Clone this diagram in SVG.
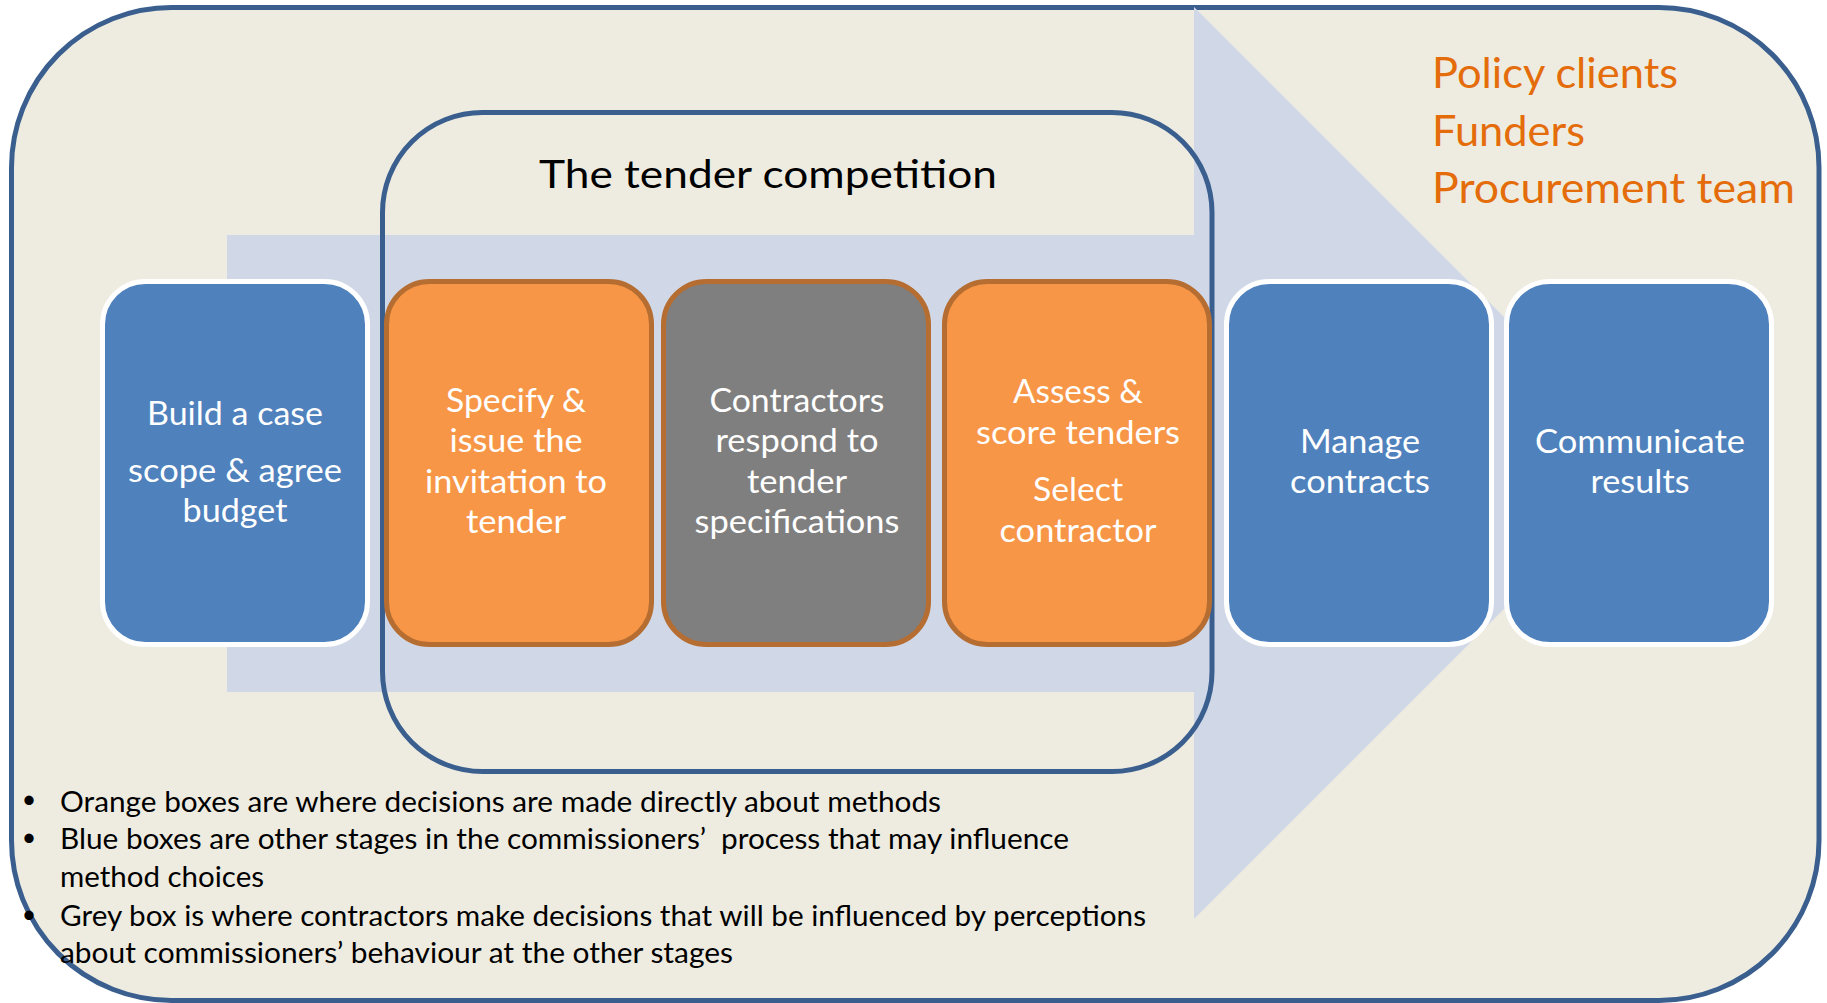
<svg xmlns="http://www.w3.org/2000/svg" width="1827" height="1003" viewBox="0 0 1827 1003">
<style>
.frame{fill:#EEECE1;stroke:#3A5F8E;stroke-width:5}
.tender{fill:none;stroke:#3A5F8E;stroke-width:5}
.arrow{fill:#D0D8E8}
.blue{fill:#4F81BD;stroke:#FFFFFF;stroke-width:5}
.orange{fill:#F79646;stroke:#B66D31;stroke-width:5}
.grey{fill:#7F7F7F;stroke:#B66D31;stroke-width:5}
.lbl{font-family:Lato,"Open Sans",sans-serif;font-size:32px;fill:#FFFFFF;text-anchor:middle}
.title{font-family:Lato,"Open Sans",sans-serif;font-size:39px;fill:#000000;text-anchor:middle}
.who{font-family:Lato,"Open Sans",sans-serif;font-size:42px;fill:#E46C0A}
.note{font-family:Lato,"Open Sans",sans-serif;font-size:29px;fill:#000000;white-space:pre}
.bul{font-family:Lato,"Open Sans",sans-serif;font-size:25px;fill:#000000;text-anchor:middle}
</style>
<rect class="frame" x="11.5" y="7.5" width="1807.5" height="993" rx="160"/>
<g id="arrow">
<polygon class="arrow" points="227,235 1194,235 1194,7 1650,463 1194,919 1194,692 227,692"/>
</g>
<g id="tender-competition">
<rect class="tender" x="382.5" y="112.5" width="829.5" height="659" rx="100"/>
<text class="title" x="768" y="188" textLength="458" lengthAdjust="spacingAndGlyphs">The tender competition</text>
</g>
<g id="connectors"></g>
<g id="build-case">
<rect class="blue" x="102.5" y="281.5" width="265" height="363" rx="43"/>
<text class="lbl" x="235" y="425" textLength="176" lengthAdjust="spacingAndGlyphs">Build a case</text>
<text class="lbl" x="235" y="482" textLength="214" lengthAdjust="spacingAndGlyphs">scope &amp; agree</text>
<text class="lbl" x="235" y="522" textLength="105" lengthAdjust="spacingAndGlyphs">budget</text>
</g>
<g id="specify">
<rect class="orange" x="386.5" y="281.5" width="265" height="363" rx="43"/>
<text class="lbl" x="516" y="412" textLength="140" lengthAdjust="spacingAndGlyphs">Specify &amp;</text>
<text class="lbl" x="516" y="452" textLength="133" lengthAdjust="spacingAndGlyphs">issue the</text>
<text class="lbl" x="516" y="493" textLength="182" lengthAdjust="spacingAndGlyphs">invitation to</text>
<text class="lbl" x="516" y="533" textLength="100" lengthAdjust="spacingAndGlyphs">tender</text>
</g>
<g id="contractors">
<rect class="grey" x="663.5" y="281.5" width="265" height="363" rx="43"/>
<text class="lbl" x="797" y="412" textLength="175" lengthAdjust="spacingAndGlyphs">Contractors</text>
<text class="lbl" x="797" y="452" textLength="163" lengthAdjust="spacingAndGlyphs">respond to</text>
<text class="lbl" x="797" y="493" textLength="100" lengthAdjust="spacingAndGlyphs">tender</text>
<text class="lbl" x="797" y="533" textLength="205" lengthAdjust="spacingAndGlyphs">specifications</text>
</g>
<g id="assess">
<rect class="orange" x="944.5" y="281.5" width="265" height="363" rx="43"/>
<text class="lbl" x="1078" y="403" textLength="130" lengthAdjust="spacingAndGlyphs">Assess &amp;</text>
<text class="lbl" x="1078" y="444" textLength="204" lengthAdjust="spacingAndGlyphs">score tenders</text>
<text class="lbl" x="1078" y="501" textLength="90" lengthAdjust="spacingAndGlyphs">Select</text>
<text class="lbl" x="1078" y="542" textLength="157" lengthAdjust="spacingAndGlyphs">contractor</text>
</g>
<g id="manage">
<rect class="blue" x="1226.5" y="281.5" width="265" height="363" rx="43"/>
<text class="lbl" x="1360" y="453" textLength="120" lengthAdjust="spacingAndGlyphs">Manage</text>
<text class="lbl" x="1360" y="493" textLength="140" lengthAdjust="spacingAndGlyphs">contracts</text>
</g>
<g id="communicate">
<rect class="blue" x="1506.5" y="281.5" width="265" height="363" rx="43"/>
<text class="lbl" x="1640" y="453" textLength="210" lengthAdjust="spacingAndGlyphs">Communicate</text>
<text class="lbl" x="1640" y="493" textLength="99" lengthAdjust="spacingAndGlyphs">results</text>
</g>
<g id="actors">
<text class="who" x="1432" y="88" textLength="246" lengthAdjust="spacingAndGlyphs">Policy clients</text>
<text class="who" x="1432" y="146" textLength="153" lengthAdjust="spacingAndGlyphs">Funders</text>
<text class="who" x="1432" y="203" textLength="363" lengthAdjust="spacingAndGlyphs">Procurement team</text>
</g>
<g id="notes">
<text class="bul" x="29" y="808">•</text>
<text class="bul" x="29" y="846">•</text>
<text class="bul" x="29" y="923">•</text>
<text class="note" x="60" y="812" textLength="881" lengthAdjust="spacingAndGlyphs">Orange boxes are where decisions are made directly about methods</text>
<text class="note" x="60" y="849" textLength="1009" lengthAdjust="spacingAndGlyphs" xml:space="preserve">Blue boxes are other stages in the commissioners’  process that may influence</text>
<text class="note" x="60" y="887" textLength="204" lengthAdjust="spacingAndGlyphs">method choices</text>
<text class="note" x="60" y="926" textLength="1086" lengthAdjust="spacingAndGlyphs">Grey box is where contractors make decisions that will be influenced by perceptions</text>
<text class="note" x="60" y="963" textLength="673" lengthAdjust="spacingAndGlyphs">about commissioners’ behaviour at the other stages</text>
</g>
</svg>
